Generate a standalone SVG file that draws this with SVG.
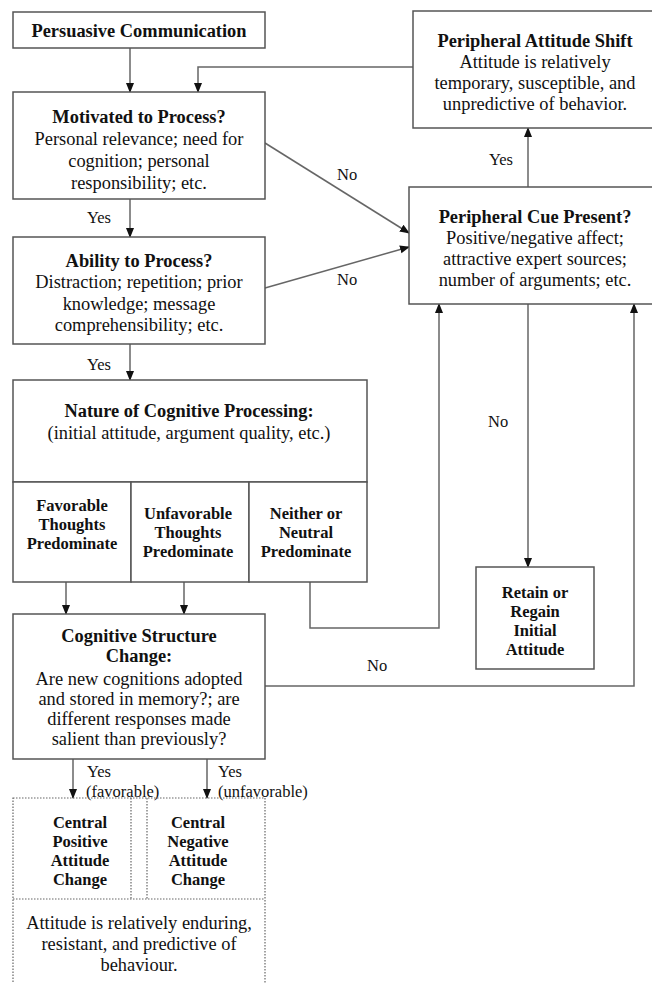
<svg xmlns="http://www.w3.org/2000/svg" width="652" height="983" viewBox="0 0 652 983">
<defs>
<marker id="ah" markerWidth="10" markerHeight="10" refX="9" refY="5" orient="auto" markerUnits="userSpaceOnUse">
<path d="M0,1 L10,5 L0,9 Z" fill="#111"/>
</marker>
<style>
.box{fill:#fff;stroke:#555;stroke-width:1.5}
.dot{fill:none;stroke:#666;stroke-width:1.2;stroke-dasharray:1.5 1.5}
.ln{fill:none;stroke:#666;stroke-width:1.5}
.ar{fill:none;stroke:#666;stroke-width:1.5;marker-end:url(#ah)}
text{font-family:"Liberation Serif","Times New Roman",serif;font-size:18.4px;fill:#111}
.b{font-weight:bold}
.c{text-anchor:middle}
.s{font-size:16.5px}
</style>
</defs>
<rect width="652" height="983" fill="#fff"/>

<g id="connectors">
<line class="ar" x1="130" y1="48" x2="130" y2="92"/>
<polyline class="ar" points="413,67 198,67 198,92"/>
<line class="ar" x1="130" y1="199" x2="130" y2="237"/>
<line class="ar" x1="130" y1="344" x2="130" y2="380"/>
<line class="ar" x1="265" y1="143" x2="409" y2="233"/>
<line class="ar" x1="265" y1="288" x2="409" y2="247"/>
<line class="ar" x1="528" y1="187" x2="528" y2="128"/>
<line class="ar" x1="528" y1="304" x2="528" y2="567"/>
<polyline class="ar" points="310,582 310,628 439,628 439,304"/>
<polyline class="ar" points="265,686 634,686 634,304"/>
<line class="ar" x1="66" y1="582" x2="66" y2="614"/>
<line class="ar" x1="184" y1="582" x2="184" y2="614"/>
<line class="ar" x1="73" y1="759" x2="73" y2="798"/>
<line class="ar" x1="207" y1="759" x2="207" y2="798"/>
<text class="s" x="337" y="180">No</text>
<text class="s" x="337" y="285">No</text>
<text class="s" x="87" y="223">Yes</text>
<text class="s" x="87" y="370">Yes</text>
<text class="s" x="489" y="165">Yes</text>
<text class="s" x="488" y="427">No</text>
<text class="s" x="367" y="671">No</text>
<text class="s" x="87" y="777">Yes</text>
<text class="s" x="86" y="797">(favorable)</text>
<text class="s" x="218" y="777">Yes</text>
<text class="s" x="218" y="797">(unfavorable)</text>
</g>

<g id="persuasive">
<rect class="box" x="13" y="12" width="252" height="36"/>
<text class="b c" x="139" y="37">Persuasive Communication</text>
</g>

<g id="motivated">
<rect class="box" x="13" y="92" width="252" height="107"/>
<text class="b c" x="139" y="123">Motivated to Process?</text>
<text class="c" x="139" y="145">Personal relevance; need for</text>
<text class="c" x="139" y="167">cognition; personal</text>
<text class="c" x="139" y="189">responsibility; etc.</text>
</g>

<g id="ability">
<rect class="box" x="13" y="237" width="252" height="107"/>
<text class="b c" x="139" y="267">Ability to Process?</text>
<text class="c" x="139" y="288">Distraction; repetition; prior</text>
<text class="c" x="139" y="310">knowledge; message</text>
<text class="c" x="139" y="331">comprehensibility; etc.</text>
</g>

<g id="nature">
<rect class="box" x="13" y="380" width="354" height="102"/>
<text class="b c" x="189" y="417">Nature of Cognitive Processing:</text>
<text class="c" x="189" y="439">(initial attitude, argument quality, etc.)</text>
</g>

<g id="favorable">
<rect class="box" x="13" y="482" width="118" height="100"/>
<text class="b c s" x="72" y="511">Favorable</text>
<text class="b c s" x="72" y="530">Thoughts</text>
<text class="b c s" x="72" y="549">Predominate</text>
</g>
<g id="unfavorable">
<rect class="box" x="131" y="482" width="118" height="100"/>
<text class="b c s" x="188" y="519">Unfavorable</text>
<text class="b c s" x="188" y="538">Thoughts</text>
<text class="b c s" x="188" y="557">Predominate</text>
</g>
<g id="neither">
<rect class="box" x="249" y="482" width="118" height="100"/>
<text class="b c s" x="306" y="519">Neither or</text>
<text class="b c s" x="306" y="538">Neutral</text>
<text class="b c s" x="306" y="557">Predominate</text>
</g>

<g id="cognitive">
<rect class="box" x="13" y="614" width="252" height="145"/>
<text class="b c" x="139" y="642">Cognitive Structure</text>
<text class="b c" x="139" y="662">Change:</text>
<text class="c" x="139" y="685">Are new cognitions adopted</text>
<text class="c" x="139" y="705">and stored in memory?; are</text>
<text class="c" x="139" y="725">different responses made</text>
<text class="c" x="139" y="745">salient than previously?</text>
</g>

<g id="central">
<rect class="dot" x="13" y="798" width="252" height="200"/>
<line class="dot" x1="131" y1="798" x2="131" y2="899"/>
<line class="dot" x1="147" y1="798" x2="147" y2="899"/>
<line class="dot" x1="13" y1="899" x2="265" y2="899"/>
<text class="b c s" x="80" y="828">Central</text>
<text class="b c s" x="80" y="847">Positive</text>
<text class="b c s" x="80" y="866">Attitude</text>
<text class="b c s" x="80" y="885">Change</text>
<text class="b c s" x="198" y="828">Central</text>
<text class="b c s" x="198" y="847">Negative</text>
<text class="b c s" x="198" y="866">Attitude</text>
<text class="b c s" x="198" y="885">Change</text>
<text class="c" x="139" y="929">Attitude is relatively enduring,</text>
<text class="c" x="139" y="950">resistant, and predictive of</text>
<text class="c" x="139" y="971">behaviour.</text>
</g>

<g id="peripheral-shift">
<rect class="box" x="413" y="11" width="245" height="117"/>
<text class="b c" x="535" y="47">Peripheral Attitude Shift</text>
<text class="c" x="535" y="68">Attitude is relatively</text>
<text class="c" x="535" y="89">temporary, susceptible, and</text>
<text class="c" x="535" y="110">unpredictive of behavior.</text>
</g>

<g id="peripheral-cue">
<rect class="box" x="409" y="187" width="249" height="117"/>
<text class="b c" x="535" y="223">Peripheral Cue Present?</text>
<text class="c" x="535" y="244">Positive/negative affect;</text>
<text class="c" x="535" y="265">attractive expert sources;</text>
<text class="c" x="535" y="286">number of arguments; etc.</text>
</g>

<g id="retain">
<rect class="box" x="476" y="567" width="118" height="102"/>
<text class="b c s" x="535" y="598">Retain or</text>
<text class="b c s" x="535" y="617">Regain</text>
<text class="b c s" x="535" y="636">Initial</text>
<text class="b c s" x="535" y="655">Attitude</text>
</g>
</svg>
